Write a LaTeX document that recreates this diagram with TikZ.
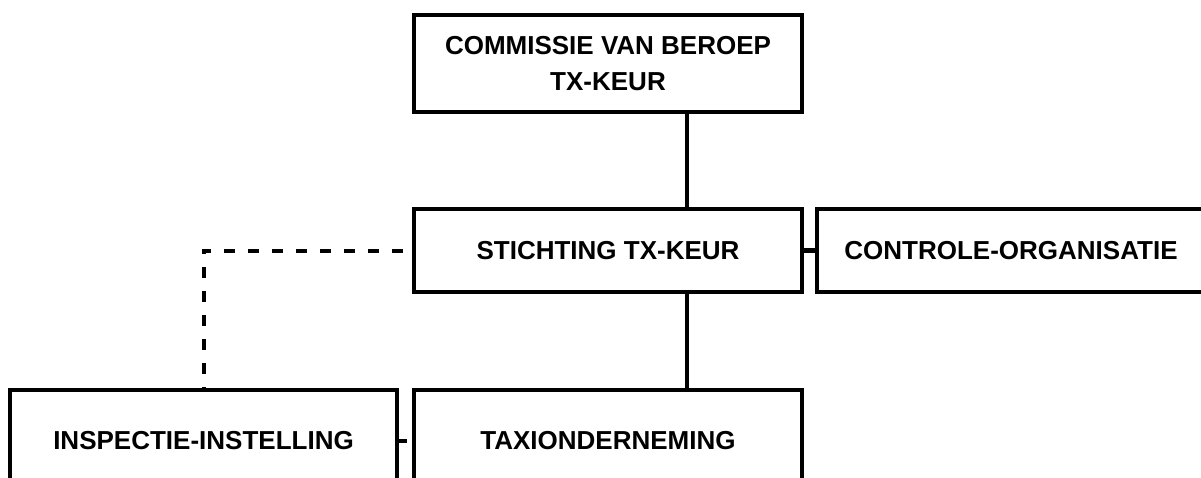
\documentclass[tikz,border=0pt]{standalone}
\usepackage{fontspec}
\setmainfont{Liberation Sans}
\usetikzlibrary{calc}
\newcommand{\widthorg}{388pt}
\tikzset{
    orgbox/.style={draw, rectangle, line width=4.5pt, inner sep=0pt, minimum width=\widthorg, align=center, font=\fontsize{26}{36}\selectfont\bfseries},
    toprow/.style={orgbox, minimum height=97pt},
    midrow/.style={orgbox, minimum height=83pt},
    botrow/.style={orgbox, minimum height=102pt},
    link/.style={line width=4.5pt},
    dashlink/.style={line width=4pt, dash pattern=on 11pt off 13pt}
}

\begin{document}
\begin{tikzpicture}[x=1pt,y=-1pt]
    \useasboundingbox (0,0) rectangle (1201,477);
    \clip (0,0) rectangle (1201,477);

    \node[toprow] (beroep) at (608,63.5) {COMMISSIE VAN BEROEP\\TX-KEUR};
    \node[midrow] (stichting) at (608,250.5) {STICHTING TX-KEUR};
    \node[midrow] (controle) at (1011,250.5) {CONTROLE-ORGANISATIE};
    \node[botrow, minimum width=387pt] (inspectie) at (203.5,441) {INSPECTIE-INSTELLING};
    \node[botrow] (taxi) at (608,441) {TAXIONDERNEMING};

    \coordinate (trunk) at (687,0);
    \draw[link] (trunk |- beroep.south) -- (trunk |- stichting.north);
    \draw[link] (trunk |- stichting.south) -- (trunk |- taxi.north);
    \draw[link] (stichting.east) -- (controle.west);
    \draw[link] (inspectie.east) -- ++(8,0);

    \draw[dashlink] ($(stichting.west)+(-9,0)$) -| (inspectie.north);
\end{tikzpicture}
\end{document}
